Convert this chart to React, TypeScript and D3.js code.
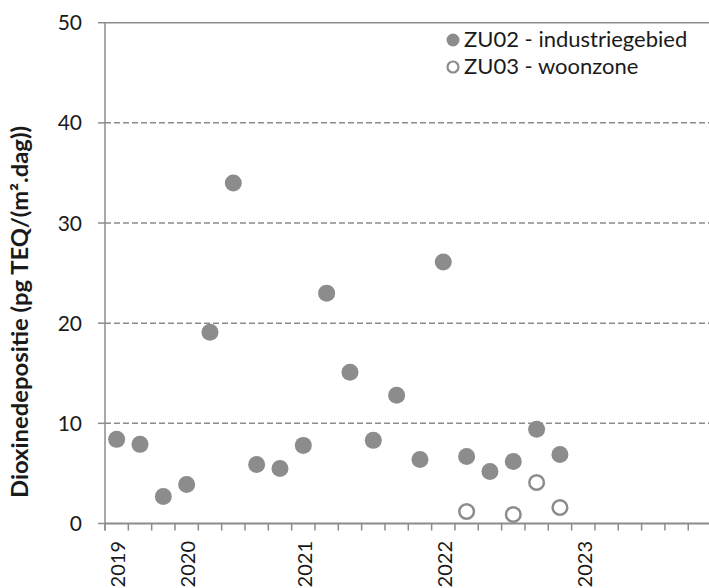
import React from "react";
import * as d3 from "d3";

const categories: string[] = [
  "2019", "", "", "2020", "", "", "", "", "2021", "", "", "", "", "",
  "2022", "", "", "", "", "", "2023", "", "", "", "", "",
];
const zu02: (number | null)[] = [
  8.4, 7.9, 2.7, 3.9, 19.1, 34.0, 5.9, 5.5, 7.8, 23.0, 15.1, 8.3, 12.8, 6.4,
  26.1, 6.7, 5.2, 6.2, 9.4, 6.9, null, null, null, null, null, null,
];
const zu03: (number | null)[] = [
  null, null, null, null, null, null, null, null, null, null, null, null, null, null,
  null, 1.2, null, 0.9, 4.1, 1.6, null, null, null, null, null, null,
];
const yTicks: number[] = [0, 10, 20, 30, 40, 50];
const seriesNames: string[] = ["ZU02 - industriegebied", "ZU03 - woonzone"];
const yTitle = "Dioxinedepositie (pg TEQ/(m².dag))";

const W = 709;
const H = 588;
const FONT = "Lato, 'Open Sans', 'Liberation Sans', sans-serif";
const GRAY = "#8c8c8c";

export default function App() {
  const left = 105;
  const step = 23.33;
  const x = d3
    .scaleBand<number>()
    .domain(categories.map((_, i) => i))
    .range([left, left + step * categories.length])
    .paddingInner(0)
    .paddingOuter(0);
  const y = d3.scaleLinear().domain([0, 50]).range([523.5, 22.7]);
  const bw = x.bandwidth();
  const cx = (i: number) => (x(i) as number) + bw / 2;

  const tickXs = categories.map((_, i) => x(i) as number).filter((v) => v <= W);

  return (
    <svg
      width={W}
      height={H}
      style={{ position: "absolute", left: 0, top: 0, background: "#fff" }}
      fontFamily={FONT}
    >
      {/* gridlines */}
      {yTicks.map((t) => (
        <g key={"g" + t}>
          {t > 0 && (
            <line
              x1={left}
              x2={W}
              y1={y(t)}
              y2={y(t)}
              stroke={GRAY}
              strokeWidth={1.5}
              strokeDasharray={t === 50 ? undefined : "6,3"}
            />
          )}
          <line x1={left - 7} x2={left} y1={y(t)} y2={y(t)} stroke={GRAY} strokeWidth={1.5} />
          <text
            x={82}
            y={y(t)}
            dy="0.36em"
            textAnchor="end"
            fontSize={21}
            fill="#1a1a1a"
          >
            {t}
          </text>
        </g>
      ))}
      {/* axes */}
      <line x1={left} x2={left} y1={y(50)} y2={y(0) + 7} stroke={GRAY} strokeWidth={1.5} />
      <line x1={left} x2={W} y1={y(0)} y2={y(0)} stroke={GRAY} strokeWidth={2} />
      {tickXs.map((tx, i) => (
        <line key={"t" + i} x1={tx} x2={tx} y1={y(0)} y2={y(0) + 7} stroke={GRAY} strokeWidth={1.5} />
      ))}
      {categories.map((c, i) =>
        c ? (
          <text
            key={"xl" + i}
            transform={`translate(${cx(i) + 1.5},541) rotate(-90)`}
            textAnchor="end"
            dy="0.36em"
            fontSize={20}
            fill="#1a1a1a"
          >
            {c}
          </text>
        ) : null
      )}
      {/* y title */}
      <text
        transform="translate(28,312) rotate(-90)"
        textAnchor="middle"
        fontSize={22}
        fontWeight="bold"
        fill="#1a1a1a"
        textLength={372}
        lengthAdjust="spacingAndGlyphs"
      >
        {yTitle}
      </text>
      {/* series */}
      {zu02.map((v, i) =>
        v == null ? null : <circle key={"a" + i} cx={cx(i)} cy={y(v)} r={8.5} fill={GRAY} />
      )}
      {zu03.map((v, i) =>
        v == null ? null : (
          <circle key={"b" + i} cx={cx(i)} cy={y(v)} r={7.3} fill="#fff" stroke={GRAY} strokeWidth={2.5} />
        )
      )}
      {/* legend */}
      <circle cx={453} cy={40} r={6.5} fill={GRAY} />
      <circle cx={453} cy={67} r={5.5} fill="#fff" stroke={GRAY} strokeWidth={2.2} />
      <text x={464} y={46.7} fontSize={22} fill="#1a1a1a">
        {seriesNames[0]}
      </text>
      <text x={464} y={74} fontSize={22} fill="#1a1a1a">
        {seriesNames[1]}
      </text>
    </svg>
  );
}
